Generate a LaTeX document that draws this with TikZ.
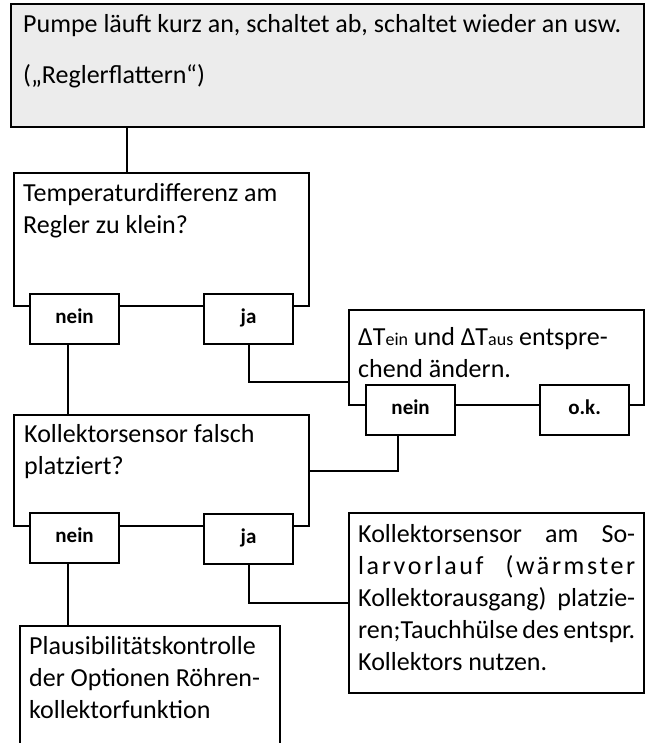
\documentclass[tikz,border=0pt]{standalone}
\usepackage{fontspec}
\setmainfont{Carlito}
\usetikzlibrary{positioning}

\tikzset{
    frame/.style={draw, line width=2.2pt, anchor=north west, inner sep=0pt, fill=white},
    boxtext/.style={anchor=base west, inner sep=0pt, font=\fontsize{26}{32}\selectfont},
    answer/.style={draw, line width=2.2pt, fill=white, anchor=north west, minimum width=89pt,
        minimum height=50pt, inner sep=0pt, text height=13pt, text depth=4pt,
        font=\fontsize{21}{22}\selectfont\bfseries},
    link/.style={line width=2.2pt}
}
\newcommand{\fullline}[1]{\makebox[277pt][s]{#1}}

\begin{document}
\begin{tikzpicture}[x=1pt,y=-1pt]
    \useasboundingbox (0,0) rectangle (652,743);

    \node[frame, fill=gray!15, minimum width=633pt, minimum height=123pt] (stoerung) at (10,3) {};
    \node[frame, minimum width=295pt, minimum height=133pt] (frage1) at (13,172) {};
    \node[frame, minimum width=295pt, minimum height=95pt]  (aendern) at (348,309) {};
    \node[frame, minimum width=295pt, minimum height=111pt] (frage2) at (13,414) {};
    \node[frame, minimum width=295pt, minimum height=180pt] (massnahme) at (348,512) {};
    \node[frame, minimum width=260pt, minimum height=140pt] (plausi) at (19,625) {};

    \node[boxtext, font=\fontsize{26}{51}\selectfont] (stoerungtext) at (23,33)
        {\parbox[t]{615pt}{Pumpe läuft kurz an, schaltet ab, schaltet wieder an usw.\\(„Reglerflattern“)}};
    \node[boxtext] (frage1text) at (23,202)
        {\parbox[t]{280pt}{Temperaturdifferenz am\\Regler zu klein?}};
    \node[boxtext] (aenderntext) at (358,345)
        {\parbox[t]{280pt}{ΔT{\fontsize{18}{20}\selectfont ein} und ΔT{\fontsize{18}{20}\selectfont aus} entspre-\\chend ändern.}};
    \node[boxtext] (frage2text) at (24,442)
        {\parbox[t]{280pt}{Kollektorsensor falsch\\platziert?}};
    \node[boxtext] (massnahmetext) at (358,542)
        {\parbox[t]{277pt}{\fullline{Kollektorsensor am So-}\\
        \fullline{\addfontfeature{LetterSpace=10}larvorlauf (wärmster}\\
        \fullline{Kollektorausgang) platzie-}\\
        \fullline{ren;Tauchhülse des entspr.}\\
        Kollektors nutzen.}};
    \node[boxtext] (plausitext) at (29,654)
        {\parbox[t]{245pt}{Plausibilitätskontrolle\\der Optionen Röhren-\\kollektorfunktion}};

    \foreach \name/\x/\y/\label in {neinA/29/293/nein, jaA/203/293/ja, neinB/365/384/nein,
        okB/539/384/o.k., neinC/29/512/nein, jaC/203/513/ja}
        \node[answer] (\name) at (\x,\y) {\label};

    \draw[link] ([xshift=117pt]stoerung.south west) -- ([xshift=117pt]stoerung.south west |- frage1.north);
    \draw[link] ([xshift=-6.5pt]neinA.south) -- ([xshift=-6.5pt]neinA.south |- frage2.north);
    \draw[link] (jaA.south) |- ([yshift=-24.5pt]aendern.west);
    \draw[link] ([xshift=-12.5pt]neinB.south) |- (frage2.east);
    \draw[link] (jaC.south) |- (massnahme.west);
    \draw[link] ([xshift=-6.5pt]neinC.south) -- ([xshift=-6.5pt]neinC.south |- plausi.north);
\end{tikzpicture}
\end{document}
